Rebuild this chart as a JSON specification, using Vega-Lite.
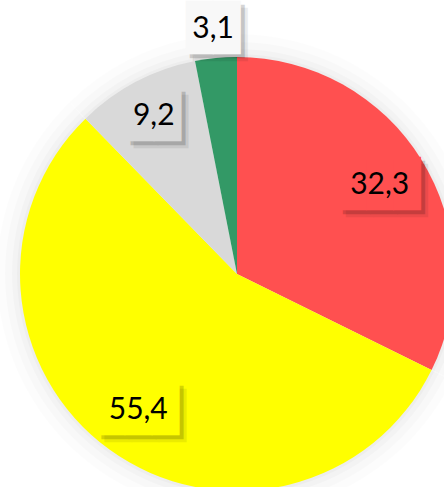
{
  "$schema": "https://vega.github.io/schema/vega-lite/v6.json",
  "width": 474,
  "height": 548,
  "autosize": "none",
  "padding": {"left": 0, "top": 0, "right": -30, "bottom": -61},
  "background": "white",
  "view": {"stroke": null},
  "data": {
    "values": [
      {"cat": "A", "value": 32.3, "label": "32,3", "order": 1},
      {"cat": "B", "value": 55.4, "label": "55,4", "order": 2},
      {"cat": "C", "value": 9.2, "label": "9,2", "order": 3},
      {"cat": "D", "value": 3.1, "label": "3,1", "order": 4}
    ]
  },
  "encoding": {
    "theta": {"field": "value", "type": "quantitative", "stack": true},
    "order": {"field": "order", "type": "quantitative"}
  },
  "layer": [
    {"mark": {"type": "arc", "radius": 240, "fill": "#000", "opacity": 0.012, "stroke": null}, "encoding": {}},
    {"mark": {"type": "arc", "radius": 232, "fill": "#000", "opacity": 0.015, "stroke": null}, "encoding": {}},
    {"mark": {"type": "arc", "radius": 225, "fill": "#000", "opacity": 0.02, "stroke": null}, "encoding": {}},
    {"mark": {"type": "arc", "radius": 220, "fill": "#000", "opacity": 0.025, "stroke": null}, "encoding": {}},
    {
      "mark": {"type": "arc", "radius": 217, "stroke": null},
      "encoding": {
        "color": {
          "field": "cat",
          "type": "nominal",
          "scale": {"domain": ["A", "B", "C", "D"], "range": ["#FF5050", "#FFFF00", "#D9D9D9", "#339966"]},
          "legend": null
        }
      }
    },
    {
      "mark": {"type": "text", "font": "DejaVu Sans Mono", "fontSize": 45, "baseline": "middle", "align": "center", "color": "#000", "dx": 7, "dy": 7},
      "encoding": {
        "radius": {"value": 168},
        "text": {"value": "███"},
        "opacity": {"condition": {"test": "datum.cat == 'A' || datum.cat == 'B'", "value": 0.07}, "value": 0}
      }
    },
    {
      "mark": {"type": "text", "font": "DejaVu Sans Mono", "fontSize": 45, "baseline": "middle", "align": "center", "color": "#000", "dx": 7, "dy": 7},
      "encoding": {
        "radius": {"value": 179},
        "text": {"value": "██"},
        "opacity": {"condition": {"test": "datum.cat == 'C'", "value": 0.07}, "value": 0}
      }
    },
    {
      "mark": {"type": "text", "font": "DejaVu Sans Mono", "fontSize": 45, "baseline": "middle", "align": "center", "color": "#000", "dx": 7, "dy": 7},
      "encoding": {
        "radius": {"value": 246},
        "text": {"value": "██"},
        "opacity": {"condition": {"test": "datum.cat == 'D'", "value": 0.07}, "value": 0}
      }
    },
    {
      "mark": {"type": "text", "font": "DejaVu Sans Mono", "fontSize": 45, "baseline": "middle", "align": "center", "color": "#000", "dx": 4, "dy": 4},
      "encoding": {
        "radius": {"value": 168},
        "text": {"value": "███"},
        "opacity": {"condition": {"test": "datum.cat == 'A' || datum.cat == 'B'", "value": 0.16}, "value": 0}
      }
    },
    {
      "mark": {"type": "text", "font": "DejaVu Sans Mono", "fontSize": 45, "baseline": "middle", "align": "center", "color": "#000", "dx": 4, "dy": 4},
      "encoding": {
        "radius": {"value": 179},
        "text": {"value": "██"},
        "opacity": {"condition": {"test": "datum.cat == 'C'", "value": 0.16}, "value": 0}
      }
    },
    {
      "mark": {"type": "text", "font": "DejaVu Sans Mono", "fontSize": 45, "baseline": "middle", "align": "center", "color": "#000", "dx": 4, "dy": 4},
      "encoding": {
        "radius": {"value": 246},
        "text": {"value": "██"},
        "opacity": {"condition": {"test": "datum.cat == 'D'", "value": 0.16}, "value": 0}
      }
    },
    {
      "mark": {"type": "text", "font": "DejaVu Sans Mono", "fontSize": 45, "baseline": "middle", "align": "center"},
      "encoding": {
        "radius": {"value": 168},
        "fill": {"field": "cat", "type": "nominal", "scale": {"domain": ["A", "B", "C", "D"], "range": ["#FF5050", "#FFFF00", "#D9D9D9", "#F8F8F8"]}, "legend": null},
        "text": {"value": "███"},
        "opacity": {"condition": {"test": "datum.cat == 'A' || datum.cat == 'B'", "value": 1}, "value": 0}
      }
    },
    {
      "mark": {"type": "text", "font": "DejaVu Sans Mono", "fontSize": 45, "baseline": "middle", "align": "center"},
      "encoding": {
        "radius": {"value": 179},
        "fill": {"field": "cat", "type": "nominal", "legend": null},
        "text": {"value": "██"},
        "opacity": {"condition": {"test": "datum.cat == 'C'", "value": 1}, "value": 0}
      }
    },
    {
      "mark": {"type": "text", "font": "DejaVu Sans Mono", "fontSize": 45, "baseline": "middle", "align": "center"},
      "encoding": {
        "radius": {"value": 246},
        "fill": {"field": "cat", "type": "nominal", "legend": null},
        "text": {"value": "██"},
        "opacity": {"condition": {"test": "datum.cat == 'D'", "value": 1}, "value": 0}
      }
    },
    {
      "mark": {"type": "text", "font": "Lato", "fontSize": 30, "baseline": "middle", "align": "center", "color": "black"},
      "encoding": {
        "radius": {"value": 168},
        "text": {"field": "label"},
        "opacity": {"condition": {"test": "datum.cat == 'A' || datum.cat == 'B'", "value": 1}, "value": 0}
      }
    },
    {
      "mark": {"type": "text", "font": "Lato", "fontSize": 30, "baseline": "middle", "align": "center", "color": "black"},
      "encoding": {
        "radius": {"value": 179},
        "text": {"field": "label"},
        "opacity": {"condition": {"test": "datum.cat == 'C'", "value": 1}, "value": 0}
      }
    },
    {
      "mark": {"type": "text", "font": "Lato", "fontSize": 30, "baseline": "middle", "align": "center", "color": "black"},
      "encoding": {
        "radius": {"value": 246},
        "text": {"field": "label"},
        "opacity": {"condition": {"test": "datum.cat == 'D'", "value": 1}, "value": 0}
      }
    }
  ]
}
